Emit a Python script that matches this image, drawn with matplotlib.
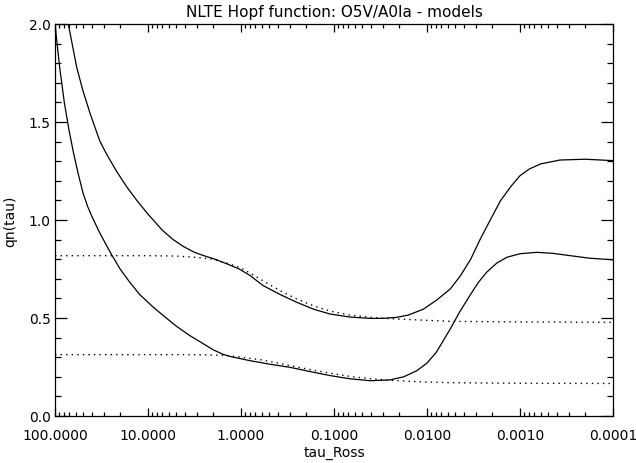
import numpy as np
import matplotlib
matplotlib.use("Agg")
import matplotlib.pyplot as plt
from matplotlib.ticker import LogLocator, FixedLocator, MultipleLocator, FuncFormatter

# --- data (log10 tau_Ross, qn) ---
upper_logtau = [1.95, 1.857, 1.767, 1.70, 1.62, 1.52, 1.45, 1.34, 1.23, 1.12, 1.00,
                0.85, 0.73, 0.62, 0.50, 0.40, 0.28, 0.15, 0.02, -0.10, -0.17, -0.24,
                -0.42, -0.60, -0.78, -0.96, -1.17, -1.39, -1.52, -1.67, -1.80, -1.96,
                -2.10, -2.25, -2.36, -2.47, -2.57, -2.68, -2.79, -2.90, -3.00, -3.10,
                -3.22, -3.43, -3.70, -4.00]
upper_q = [2.22, 2.00, 1.78, 1.66, 1.54, 1.405, 1.34, 1.25, 1.17, 1.10, 1.03,
           0.95, 0.90, 0.865, 0.835, 0.818, 0.80, 0.776, 0.75, 0.716, 0.69, 0.665,
           0.62, 0.58, 0.545, 0.52, 0.505, 0.498, 0.498, 0.503, 0.515, 0.545,
           0.59, 0.648, 0.716, 0.80, 0.90, 1.00, 1.098, 1.17, 1.226, 1.26,
           1.286, 1.306, 1.31, 1.303]

lower_logtau = [2.00, 1.95, 1.90, 1.85, 1.80, 1.75, 1.70, 1.65, 1.60, 1.56, 1.52,
                1.40, 1.30, 1.20, 1.09, 0.95, 0.84, 0.70, 0.55, 0.40, 0.30, 0.19,
                0.10, -0.10, -0.30, -0.53, -0.75, -0.96, -1.17, -1.39, -1.60, -1.75,
                -1.89, -2.00, -2.10, -2.25, -2.35, -2.46, -2.55, -2.64, -2.75, -2.86,
                -3.00, -3.18, -3.35, -3.54, -3.75, -4.00]
lower_q = [2.00, 1.78, 1.60, 1.46, 1.34, 1.235, 1.14, 1.07, 1.015, 0.975, 0.935,
           0.83, 0.75, 0.685, 0.62, 0.558, 0.514, 0.46, 0.41, 0.367, 0.338, 0.314,
           0.302, 0.282, 0.265, 0.248, 0.226, 0.206, 0.19, 0.18, 0.184, 0.20,
           0.231, 0.27, 0.325, 0.444, 0.53, 0.614, 0.68, 0.733, 0.78, 0.81,
           0.828, 0.835, 0.83, 0.818, 0.805, 0.797]

lte_upper_logtau = [2.0, 1.0, 0.7, 0.5, 0.3, 0.15, 0.0, -0.15, -0.30, -0.45, -0.60,
                    -0.78, -0.96, -1.17, -1.39, -1.67, -2.0, -2.25, -3.0, -4.0]
lte_upper_q = [0.818, 0.818, 0.816, 0.81, 0.80, 0.78, 0.755, 0.715, 0.672, 0.632, 0.597,
               0.562, 0.535, 0.515, 0.503, 0.495, 0.488, 0.483, 0.48, 0.478]

lte_lower_logtau = [2.0, 0.5, 0.2, 0.0, -0.2, -0.4, -0.6, -0.8, -1.0, -1.2, -1.4,
                    -1.6, -1.9, -2.25, -3.0, -4.0]
lte_lower_q = [0.313, 0.313, 0.31, 0.30, 0.288, 0.27, 0.25, 0.232, 0.215, 0.20, 0.19,
               0.182, 0.175, 0.17, 0.167, 0.166]

plt.rcParams['font.family'] = ['DejaVu Sans']

fig = plt.figure(figsize=(6.36, 4.64), dpi=100)
ax = fig.add_axes([55 / 636, 47 / 464, 558 / 636, 392 / 464])

solid = dict(color='black', lw=0.9)
dotted = dict(color='black', lw=1.0, linestyle=(0, (1, 3)))

ax.plot(10 ** np.array(upper_logtau), upper_q, **solid)
ax.plot(10 ** np.array(lower_logtau), lower_q, **solid)
ax.plot(10 ** np.array(lte_upper_logtau), lte_upper_q, **dotted)
ax.plot(10 ** np.array(lte_lower_logtau), lte_lower_q, **dotted)

ax.set_xscale('log')
ax.set_xlim(100, 1e-4)
ax.set_ylim(0, 2.0)

ax.xaxis.set_major_locator(FixedLocator([100, 10, 1, 0.1, 0.01, 0.001, 0.0001]))
ax.xaxis.set_minor_locator(LogLocator(base=10, subs=np.arange(2, 10), numticks=20))
ax.xaxis.set_major_formatter(FuncFormatter(lambda v, p: '%.4f' % v))
ax.xaxis.set_minor_formatter(FuncFormatter(lambda v, p: ''))
ax.yaxis.set_major_locator(MultipleLocator(0.5))
ax.yaxis.set_minor_locator(MultipleLocator(0.1))
ax.yaxis.set_major_formatter(FuncFormatter(lambda v, p: '%.1f' % v))

ax.tick_params(which='both', direction='in', top=True, right=True,
               labelsize=10, width=0.9, color='black')
ax.tick_params(axis='x', which='major', length=5.5, pad=9)
ax.tick_params(axis='x', which='minor', length=2.8)
ax.tick_params(axis='y', which='major', length=8.4, pad=3)
ax.tick_params(axis='y', which='minor', length=4.2)
for s in ax.spines.values():
    s.set_linewidth(0.9)

ax.set_title('NLTE Hopf function: O5V/A0Ia - models', fontsize=11, pad=6)
ax.set_xlabel('tau_Ross', fontsize=10, labelpad=2)
ax.set_ylabel('qn(tau)', fontsize=10, labelpad=8)

fig.savefig('out.png', dpi=100)
